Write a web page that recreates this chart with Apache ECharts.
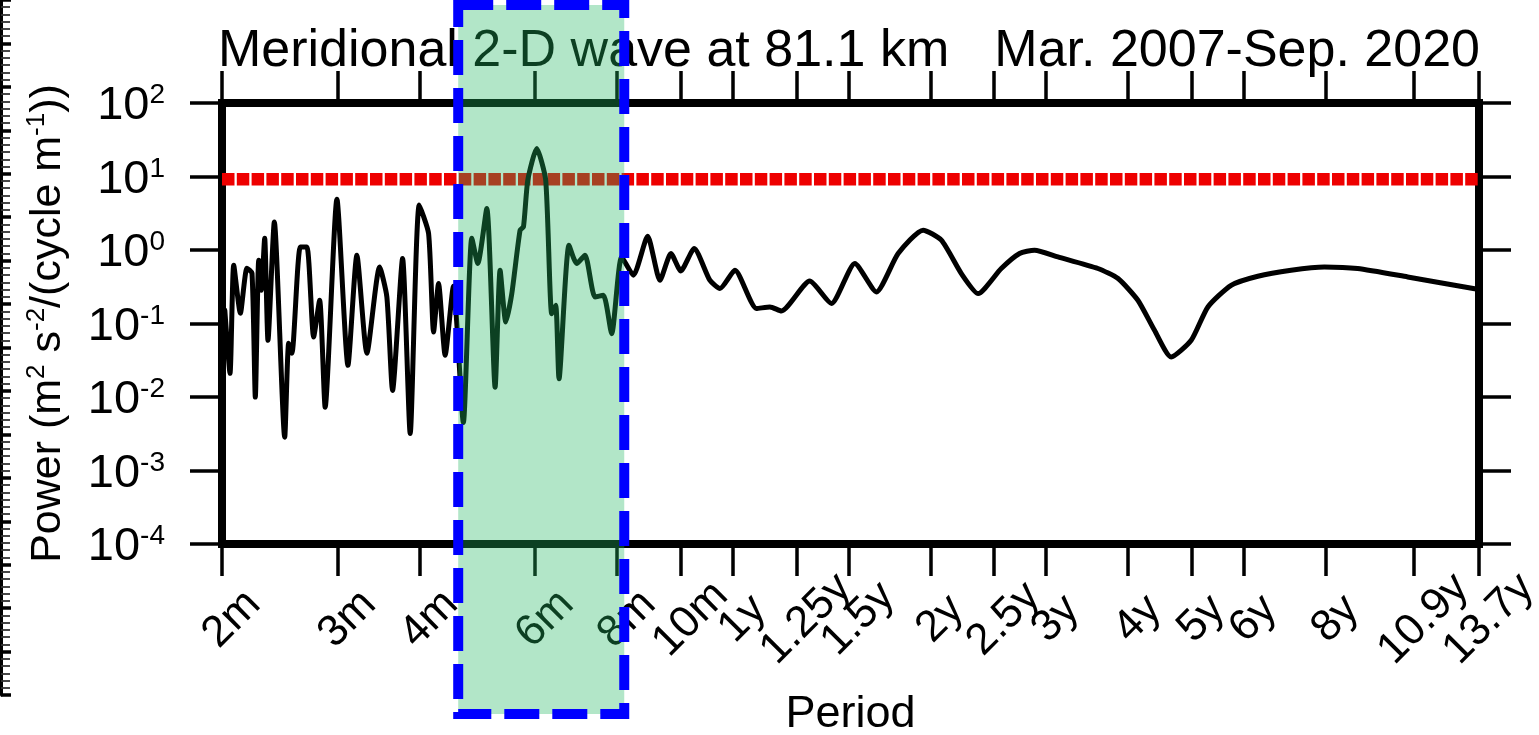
<!DOCTYPE html>
<html><head><meta charset="utf-8">
<script src="https://cdn.jsdelivr.net/npm/echarts@6/dist/echarts.min.js"></script>
<style>html,body{margin:0;padding:0;background:#fff}#c{width:1539px;height:735px}</style>
</head><body><div id="c"></div>
<script>
// ---- data (period in months, power) ----
const periods = [2.02, 2.057, 2.084, 2.133, 2.183, 2.222, 2.248, 2.275, 2.296, 2.323, 2.35, 2.403, 2.492, 2.527, 2.556, 2.632, 2.694, 2.758, 2.817, 2.872,
  2.993, 3.111, 3.21, 3.325, 3.476, 3.566, 3.638, 3.768, 3.87, 3.994, 4.128, 4.201, 4.275, 4.375, 4.503, 4.663, 4.804, 4.906, 5.063, 5.213,
  5.305, 5.412, 5.527, 5.69, 5.758, 5.846, 6.032, 6.225, 6.358, 6.448, 6.523, 6.755, 6.94, 7.145, 7.4, 7.621, 7.846, 8.126, 8.467, 8.902,
  9.294, 9.659, 10.0, 10.48, 11.07, 11.47, 12.09, 13.04, 13.67, 14.23, 15.72, 16.96, 18.41, 19.86, 21.43, 23.39, 24.94, 26.75, 28.37, 30.77,
  32.81, 34.58, 37.54, 43.19, 46.35, 49.69, 52.67, 55.85, 59.91, 63.52, 68.91, 75.68, 85.04, 95.57, 107.4, 128.0, 164.4];
const power = [0.151, 0.021, 0.621, 0.138, 0.565, 0.483, 0.00997, 0.726, 0.283, 1.449, 0.059, 2.41, 0.00284, 0.0537, 0.0393, 1.10, 1.10, 0.0655, 0.207, 0.00728,
  4.92, 0.027, 0.849, 0.0393, 0.589, 0.23, 0.0123, 0.766, 0.00319, 4.08, 1.68, 0.0766, 0.35, 0.0369, 0.321, 0.0045, 1.449, 0.655, 3.68, 0.0136,
  0.531, 0.105, 0.255, 1.86, 2.06, 8.93, 24.1, 8.93, 0.136, 0.177, 0.0177, 1.16, 0.655, 0.849, 0.23, 0.242, 0.0728, 0.805, 0.454, 1.54,
  0.388, 0.896, 0.519, 1.05, 0.388, 0.299, 0.531, 0.16, 0.168, 0.148, 0.379, 0.187, 0.655, 0.269, 0.896, 1.86, 1.36, 0.478, 0.255, 0.56,
  0.896, 0.994, 0.805, 0.56, 0.409, 0.207, 0.0807, 0.035, 0.059, 0.168, 0.331, 0.44, 0.531, 0.589, 0.56, 0.43, 0.29];
const thresholdPeriods = [2, 164.4];
const thresholdPower = [9.2, 9.2];
const tickPeriods = [2, 3, 4, 6, 8, 10, 12, 15, 18, 24, 30, 36, 48, 60, 72, 96, 130.8, 164.4];
const tickLabels = ['2m', '3m', '4m', '6m', '8m', '10m', '1y', '1.25y', '1.5y', '2y', '2.5y', '3y', '4y', '5y', '6y', '8y', '10.9y', '13.7y'];
const yTickValues = [1e-4, 1e-3, 1e-2, 1e-1, 1, 10, 100];
const boxPeriods = [4.58, 8.2];
const titleLeft = 'Meridional 2-D wave at 81.1 km';
const titleRight = 'Mar. 2007-Sep. 2020';
const xName = 'Period';
const yName = 'Power (m{s|2} s{s|-2}/(cycle m{s|-1}))';

// ---- chart ----
const FONT = "'Liberation Sans', Arial, Helvetica, sans-serif";
const chart = echarts.init(document.getElementById('c'), null, {renderer: 'canvas'});

function xLabel(v) {
  let best = 0;
  for (let i = 1; i < tickPeriods.length; i++) {
    if (Math.abs(Math.log(tickPeriods[i] / v)) < Math.abs(Math.log(tickPeriods[best] / v))) best = i;
  }
  return tickLabels[best];
}
function yLabel(v) {
  return '10{s|' + Math.round(Math.log10(v)) + '}';
}

const tickStyle = {show: true, inside: false, length: 32, lineStyle: {color: '#000', width: 3.5}};
const baseX = {
  type: 'log', logBase: 10, min: 2, max: 164.4, gridIndex: 0,
  axisLine: {show: false},
  splitLine: {show: false}, minorTick: {show: false}, minorSplitLine: {show: false}
};
const baseY = {
  type: 'log', logBase: 10, min: 1e-4, max: 100, gridIndex: 0,
  axisLine: {show: false},
  splitLine: {show: false}, minorTick: {show: false}, minorSplitLine: {show: false}
};

const option = {
  animation: false,
  backgroundColor: '#fff',
  title: [
    {text: titleLeft, left: 218, top: 26, padding: 0,
     textStyle: {fontFamily: FONT, fontSize: 52, fontWeight: 'normal', color: '#000'}},
    {text: titleRight, right: 59, top: 26, padding: 0,
     textStyle: {fontFamily: FONT, fontSize: 52, fontWeight: 'normal', color: '#000'}}
  ],
  grid: [
    {left: 222, right: 60, top: 103, bottom: 191, show: true, borderColor: '#000', borderWidth: 8,
     backgroundColor: 'transparent', containLabel: false, outerBoundsMode: 'none'},
    {left: 1, width: 10, top: 0, height: 695, show: false, containLabel: false, outerBoundsMode: 'none'}
  ],
  xAxis: [
    Object.assign({}, baseX, {
      position: 'bottom',
      axisTick: Object.assign({customValues: tickPeriods}, tickStyle),
      axisLabel: {show: true, customValues: tickPeriods, formatter: xLabel, rotate: 45,
        align: 'center', verticalAlign: 'middle', margin: 85, padding: [0, 0, 0, 28],
        fontFamily: FONT, fontSize: 44, color: '#000', hideOverlap: false},
      name: xName, nameLocation: 'middle', nameGap: 148,
      nameTextStyle: {fontFamily: FONT, fontSize: 45, color: '#000'}
    }),
    Object.assign({}, baseX, {
      position: 'top',
      axisTick: Object.assign({customValues: tickPeriods}, tickStyle),
      axisLabel: {show: false, customValues: tickPeriods}
    }),
    {type: 'value', gridIndex: 1, show: false, min: 0, max: 1}
  ],
  yAxis: [
    Object.assign({}, baseY, {
      position: 'left',
      axisTick: Object.assign({customValues: yTickValues}, tickStyle),
      axisLabel: {show: true, customValues: yTickValues, formatter: yLabel, margin: 57,
        fontFamily: FONT, fontSize: 47, lineHeight: 50, color: '#000', padding: [7, 0, 0, 0],
        rich: {s: {fontFamily: FONT, fontSize: 28, lineHeight: 28, padding: [0, 0, 22, 0], color: '#000'}}},
      name: yName, nameLocation: 'middle', nameGap: 150, nameRotate: 90,
      nameTextStyle: {fontFamily: FONT, fontSize: 43, lineHeight: 48, color: '#000',
        rich: {s: {fontFamily: FONT, fontSize: 26, lineHeight: 26, padding: [0, 0, 22, 0], color: '#000'}}}
    }),
    Object.assign({}, baseY, {
      position: 'right',
      axisTick: Object.assign({customValues: yTickValues}, tickStyle),
      axisLabel: {show: false, customValues: yTickValues}
    }),
    {type: 'value', gridIndex: 1, min: 0, max: 16, interval: 1, position: 'left',
     axisLine: {show: true, lineStyle: {color: '#000', width: 3}},
     axisTick: {show: true, inside: true, length: 10, lineStyle: {color: '#000', width: 3.5}},
     minorTick: {show: true, splitNumber: 6, length: 9, lineStyle: {color: '#333', width: 1.8}},
     axisLabel: {show: false}, splitLine: {show: false}}
  ],
  series: [
    {type: 'line', xAxisIndex: 0, yAxisIndex: 0, showSymbol: false, silent: true,
     data: thresholdPeriods.map((p, i) => [p, thresholdPower[i]]),
     lineStyle: {color: '#ee0000', width: 12.5, type: [12.5, 2.3], cap: 'butt'}, z: 2},
    {type: 'line', xAxisIndex: 0, yAxisIndex: 0, showSymbol: false, silent: true, smooth: 0.2,
     data: periods.map((p, i) => [p, power[i]]),
     lineStyle: {color: '#000', width: 5, join: 'round', cap: 'round'}, z: 3}
  ]
};
chart.setOption(option);

const bx0 = chart.convertToPixel({xAxisIndex: 0}, boxPeriods[0]);
const bx1 = chart.convertToPixel({xAxisIndex: 0}, boxPeriods[1]);
chart.setOption({
  graphic: [{
    type: 'rect', z: 100, silent: true,
    shape: {x: bx0, y: 5, width: bx1 - bx0, height: 709},
    style: {fill: 'rgba(35,184,98,0.35)', stroke: '#0000ff', lineWidth: 10, lineDash: [35, 13]}
  }]
});
</script>
</body></html>
